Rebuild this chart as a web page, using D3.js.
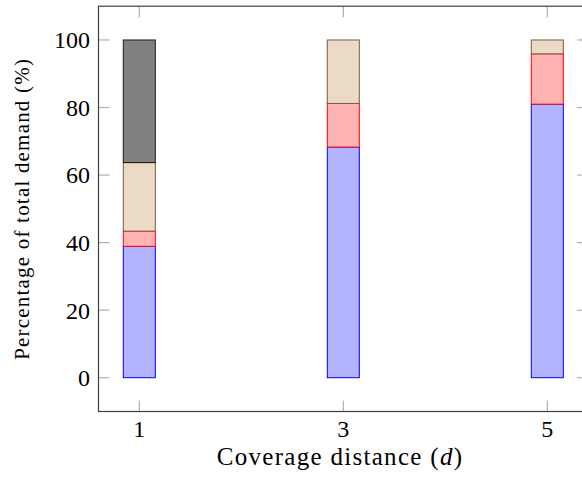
<!DOCTYPE html>
<html><head><meta charset="utf-8">
<script src="https://cdn.jsdelivr.net/npm/d3@7"></script>
<style>body{margin:0;background:#fff}svg{display:block}</style>
</head><body>
<script>
const categories = [1, 3, 5];
const blueVals = [38.9, 68.3, 81.0];
const redVals  = [4.5, 12.9, 14.9];
const tanVals  = [20.3, 18.8, 4.1];
const grayVals = [36.3, 0, 0];
const yTicks = [0, 20, 40, 60, 80, 100];
const xTicks = [1, 3, 5];

const seriesDefs = [
  {key: "blue", vals: blueVals, fill: "#b3b3ff", stroke: "#0000ff"},
  {key: "red",  vals: redVals,  fill: "#ffb3b3", stroke: "#ff0000"},
  {key: "tan",  vals: tanVals,  fill: "#ebdac6", stroke: "#7a5c3e"},
  {key: "gray", vals: grayVals, fill: "#808080", stroke: "#1a1a1a"}
];

const W = 582, H = 488;
const svg = d3.select("body").append("svg").attr("width", W).attr("height", H);
const x = d3.scaleLinear().domain([0.6, 5.4]).range([98.5, 588.1]);
const y = d3.scaleLinear().domain([-10, 110]).range([411.5, 6.2]);
const font = "'Liberation Serif', 'DejaVu Serif', serif";

const table = categories.map((c, i) => {
  const o = {cat: c};
  seriesDefs.forEach(s => o[s.key] = s.vals[i]);
  return o;
});
const stack = d3.stack().keys(seriesDefs.map(s => s.key))(table);
const halfW = 0.157;

stack.forEach((layer, li) => {
  const s = seriesDefs[li];
  svg.append("g").selectAll("rect").data(layer.filter(d => d[1] - d[0] > 0)).join("rect")
    .attr("x", d => x(d.data.cat - halfW))
    .attr("width", d => x(d.data.cat + halfW) - x(d.data.cat - halfW))
    .attr("y", d => y(d[1]))
    .attr("height", d => y(d[0]) - y(d[1]))
    .attr("fill", s.fill).attr("stroke", s.stroke).attr("stroke-width", 1);
});

// ticks (inside, light gray)
const tickLen = 11, tickCol = "#b0b0b0";
const tg = svg.append("g").attr("stroke", tickCol).attr("stroke-width", 1.2);
yTicks.forEach(t => {
  tg.append("line").attr("x1", x(0.6)).attr("x2", x(0.6) + tickLen).attr("y1", y(t)).attr("y2", y(t));
  tg.append("line").attr("x1", x(5.4)).attr("x2", x(5.4) - tickLen).attr("y1", y(t)).attr("y2", y(t));
});
xTicks.forEach(t => {
  tg.append("line").attr("x1", x(t)).attr("x2", x(t)).attr("y1", y(-10)).attr("y2", y(-10) - tickLen);
  tg.append("line").attr("x1", x(t)).attr("x2", x(t)).attr("y1", y(110)).attr("y2", y(110) + tickLen);
});

// frame
svg.append("rect").attr("x", x(0.6)).attr("y", y(110))
  .attr("width", x(5.4) - x(0.6)).attr("height", y(-10) - y(110))
  .attr("fill", "none").attr("stroke", "#404040").attr("stroke-width", 1.2);

// tick labels
svg.append("g").selectAll("text").data(yTicks).join("text")
  .attr("x", 90).attr("y", d => y(d)).attr("dy", "0.35em")
  .attr("text-anchor", "end").attr("font-family", font).attr("font-size", 24)
  .text(d => d);
svg.append("g").selectAll("text").data(xTicks).join("text")
  .attr("x", d => x(d)).attr("y", 437)
  .attr("text-anchor", "middle").attr("font-family", font).attr("font-size", 24)
  .text(d => d);

// axis labels
const xl = svg.append("text").attr("x", 340).attr("y", 465)
  .attr("text-anchor", "middle").attr("font-family", font).attr("font-size", 25)
  .attr("letter-spacing", 1.3);
xl.append("tspan").text("Coverage distance (");
xl.append("tspan").attr("font-style", "italic").text("d");
xl.append("tspan").text(")");

svg.append("text").attr("transform", `translate(22,${y(50)}) rotate(-90)`)
  .attr("text-anchor", "middle").attr("dy", "0.35em")
  .attr("font-family", font).attr("font-size", 21).attr("letter-spacing", 1.2)
  .text("Percentage of total demand (%)");
</script>
</body></html>
